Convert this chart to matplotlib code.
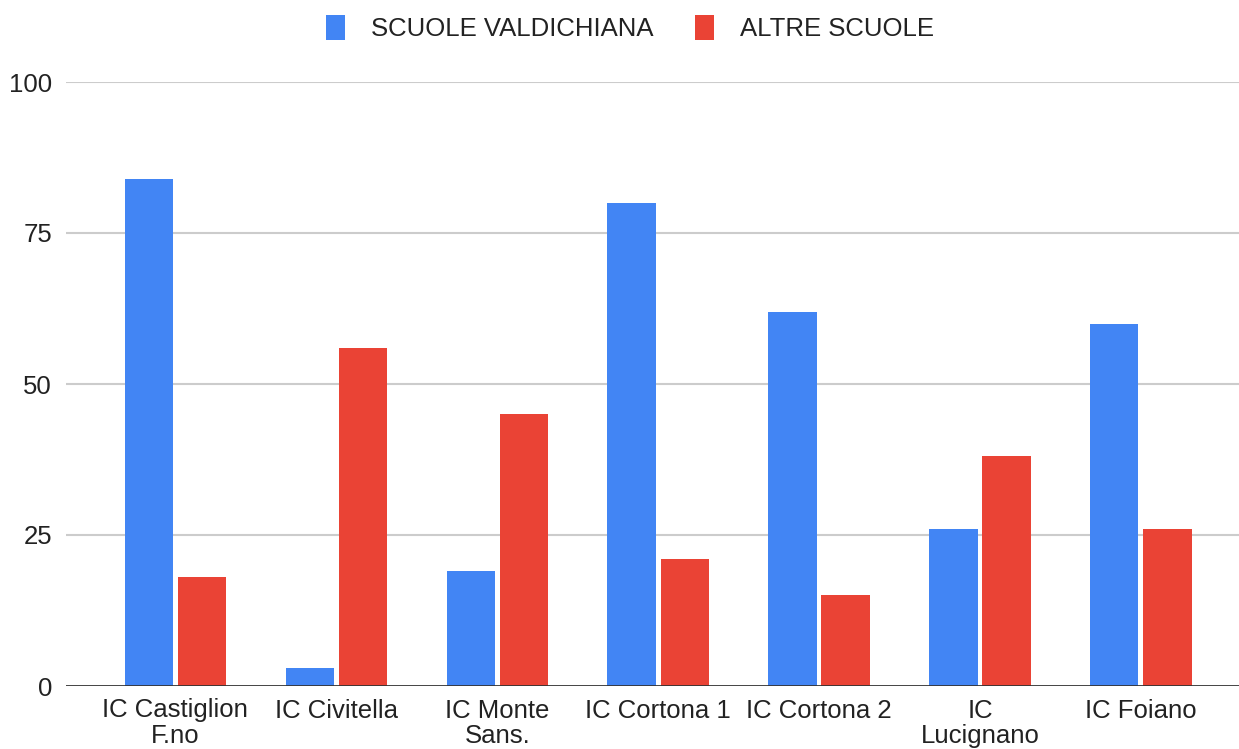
import numpy as np
import matplotlib.pyplot as plt

categories = ["IC Castiglion\nF.no", "IC Civitella", "IC Monte\nSans.", "IC Cortona 1",
              "IC Cortona 2", "IC\nLucignano", "IC Foiano"]
valdichiana = [84, 3, 19, 80, 62, 26, 60]
altre = [18, 56, 45, 21, 15, 38, 26]
series_names = ["SCUOLE VALDICHIANA", "ALTRE SCUOLE"]
yticks = [0, 25, 50, 75, 100]

BLUE = "#4285F4"
RED = "#EA4335"

plt.rcParams['font.family'] = ['Liberation Sans', 'DejaVu Sans']

W, H = 1239, 749
fig = plt.figure(figsize=(W / 100, H / 100), dpi=100)
ax = fig.add_axes([66 / W, 63 / H, (W - 66) / W, (686 - 82) / H])

x = np.arange(len(categories))
bw = 0.3
off = 0.165
ax.bar(x - off, valdichiana, bw, color=BLUE, label=series_names[0], zorder=3)
ax.bar(x + off, altre, bw, color=RED, label=series_names[1], zorder=3)

ax.set_xlim(-0.68, len(categories) - 1 + 0.61)
ax.set_ylim(0, 100)
ax.set_yticks(yticks)
ax.set_yticklabels([str(v) for v in yticks], fontsize=18.5, color="#222222")
ax.set_xticks(x)
ax.set_xticklabels(categories, fontsize=18.5, color="#222222", linespacing=1.1)
ax.tick_params(axis='both', length=0)
ax.tick_params(axis='y', pad=10)
ax.tick_params(axis='x', pad=9)

for v in yticks[1:]:
    ax.axhline(v, color="#cccccc", lw=1.5, zorder=1)
ax.axhline(0, color="#333333", lw=2, zorder=4)

for s in ax.spines.values():
    s.set_visible(False)

leg = fig.legend(loc="center", bbox_to_anchor=(630 / W, 1 - 28 / H), ncol=2, frameon=False,
                 fontsize=18.5, handlelength=0.75, handleheight=1.1, handletextpad=1.0,
                 columnspacing=1.6)
for t in leg.get_texts():
    t.set_color("#222222")

fig.savefig("out.png", dpi=100)
